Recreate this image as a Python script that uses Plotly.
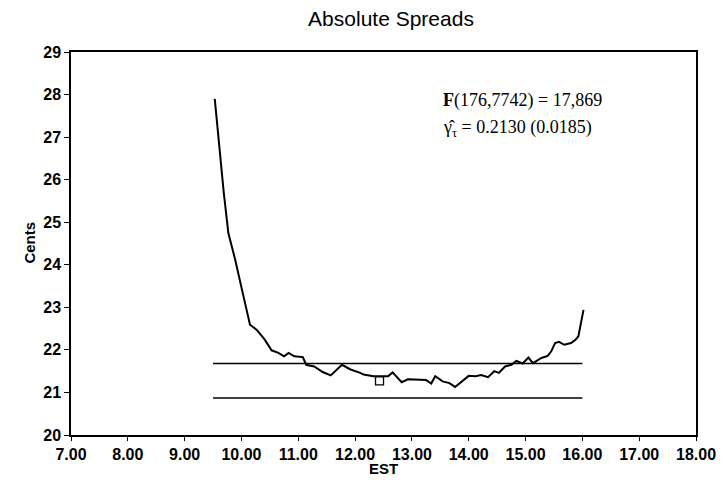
import plotly.graph_objects as go

# Data
est_hours = [9.53, 9.63, 9.69, 9.77, 9.89, 10.01, 10.10, 10.15, 10.27, 10.41, 10.53, 10.65,
             10.75, 10.83, 10.93, 11.08, 11.14, 11.28, 11.43, 11.57, 11.77, 11.92, 12.09,
             12.15, 12.32, 12.58, 12.66, 12.82, 12.93, 13.08, 13.25, 13.34, 13.41, 13.54,
             13.66, 13.76, 13.89, 14.00, 14.12, 14.22, 14.34, 14.45, 14.53, 14.64, 14.75,
             14.84, 14.95, 15.05, 15.13, 15.28, 15.39, 15.45, 15.52, 15.59, 15.68, 15.80,
             15.88, 15.93, 16.02]
spread_cents = [27.90, 26.39, 25.68, 24.74, 24.12, 23.41, 22.87, 22.59, 22.47, 22.24, 21.99, 21.93,
                21.85, 21.93, 21.85, 21.83, 21.65, 21.61, 21.48, 21.40, 21.65, 21.54, 21.46,
                21.42, 21.38, 21.38, 21.47, 21.24, 21.31, 21.30, 21.29, 21.21, 21.38, 21.26,
                21.22, 21.13, 21.26, 21.39, 21.38, 21.41, 21.36, 21.50, 21.46, 21.61, 21.65,
                21.74, 21.68, 21.82, 21.69, 21.81, 21.86, 21.96, 22.16, 22.19, 22.12, 22.16,
                22.24, 22.32, 22.94]

band_x = [9.5, 16.0]
band_upper = [21.68, 21.68]
band_lower = [20.87, 20.87]

marker_x = [12.43]
marker_y = [21.27]

x_ticks = [7, 8, 9, 10, 11, 12, 13, 14, 15, 16, 17, 18]
x_tick_labels = ["7.00", "8.00", "9.00", "10.00", "11.00", "12.00", "13.00",
                 "14.00", "15.00", "16.00", "17.00", "18.00"]
y_ticks = [20, 21, 22, 23, 24, 25, 26, 27, 28, 29]
y_tick_labels = [str(v) for v in y_ticks]

L, R, T, B = 71, 23, 52, 53
W, H = 728, 488
plot_w = W - L - R
plot_h = H - T - B

fig = go.Figure()
fig.add_trace(go.Scatter(x=band_x, y=band_upper, mode="lines",
                         line=dict(color="black", width=1.6), showlegend=False))
fig.add_trace(go.Scatter(x=band_x, y=band_lower, mode="lines",
                         line=dict(color="black", width=1.6), showlegend=False))
fig.add_trace(go.Scatter(x=est_hours, y=spread_cents, mode="lines",
                         line=dict(color="black", width=2), showlegend=False))
fig.add_trace(go.Scatter(x=marker_x, y=marker_y, mode="markers",
                         marker=dict(symbol="square", size=8, color="white",
                                     line=dict(color="black", width=1.3)),
                         showlegend=False))

sans = "Liberation Sans, Arial, sans-serif"
serif = "Liberation Serif, Times New Roman, serif"

fig.update_layout(
    width=W, height=H,
    margin=dict(l=L, r=R, t=T, b=B),
    paper_bgcolor="white", plot_bgcolor="white",
    title=dict(text="Absolute Spreads", x=0.512, xref="paper", xanchor="center",
               y=0.962, yref="container", yanchor="middle",
               font=dict(family=sans, size=21, color="black")),
    xaxis=dict(range=[7, 18], tickmode="array", tickvals=x_ticks, ticktext=x_tick_labels,
               showgrid=False, zeroline=False, showline=True, linecolor="black",
               linewidth=1.5, mirror=True, ticks="outside", ticklen=4, tickwidth=1.3,
               tickcolor="black",
               tickfont=dict(family=sans, size=16, color="black", weight="bold")),
    yaxis=dict(range=[20, 29], tickmode="array", tickvals=y_ticks, ticktext=y_tick_labels,
               showgrid=False, zeroline=False, showline=True, linecolor="black",
               linewidth=1.5, mirror=True, ticks="outside", ticklen=5, tickwidth=1.3,
               tickcolor="black",
               tickfont=dict(family=sans, size=16, color="black", weight="bold")),
    annotations=[
        dict(text="<b>F</b>(176,7742) = 17,869", x=13.52, y=27.87, xref="x", yref="y",
             xanchor="left", yanchor="middle", showarrow=False,
             font=dict(family=serif, size=18, color="black")),
        dict(text="\u03b3\u0302<sub>\u03c4</sub> = 0.2130 (0.0185)", x=13.52, y=27.2,
             xref="x", yref="y", xanchor="left", yanchor="middle", showarrow=False,
             font=dict(family=serif, size=18, color="black")),
        dict(text="<b>Cents</b>", x=(28 - L) / plot_w, y=(H - B - 243) / plot_h,
             xref="paper", yref="paper", xanchor="center", yanchor="middle",
             showarrow=False, textangle=-90,
             font=dict(family=sans, size=15, color="black")),
        dict(text="<b>EST</b>", x=(388 - L) / plot_w, y=(H - B - 468) / plot_h,
             xref="paper", yref="paper", xanchor="center", yanchor="middle",
             showarrow=False, font=dict(family=sans, size=15, color="black")),
    ],
)

fig.write_html("out.html")
